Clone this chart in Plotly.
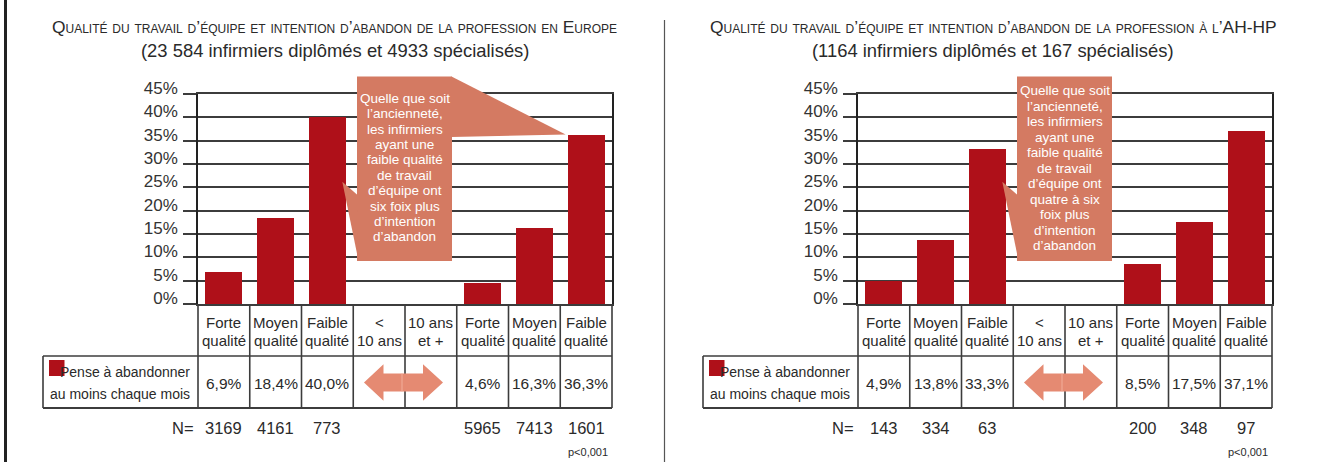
import plotly.graph_objects as go

# ---------------- data ----------------
header_line1 = ["Forte", "Moyen", "Faible", "<", "10 ans", "Forte", "Moyen", "Faible"]
header_line2 = ["qualité", "qualité", "qualité", "10 ans", "et +", "qualité", "qualité", "qualité"]
europe_pct = [6.9, 18.4, 40.0, None, None, 4.6, 16.3, 36.3]
aphp_pct = [4.9, 13.8, 33.3, None, None, 8.5, 17.5, 37.1]
europe_n = [3169, 4161, 773, None, None, 5965, 7413, 1601]
aphp_n = [143, 334, 63, None, None, 200, 348, 97]
y_ticks = [0, 5, 10, 15, 20, 25, 30, 35, 40, 45]

title_left = "Qualité du travail d’équipe et intention d’abandon de la profession en Europe"
title_right = "Qualité du travail d’équipe et intention d’abandon de la profession à l’AH-HP"
subtitle_left = "(23 584 infirmiers diplômés et 4933 spécialisés)"
subtitle_right = "(1164 infirmiers diplômés et 167 spécialisés)"
row_label = ["Pense à abandonner", "au moins chaque mois"]
callout_left = ["Quelle que soit", "l’ancienneté,", "les infirmiers", "ayant une", "faible qualité",
                "de travail", "d’équipe ont", "six foix plus", "d’intention", "d’abandon"]
callout_right = ["Quelle que soit", "l’ancienneté,", "les infirmiers", "ayant une", "faible qualité",
                 "de travail", "d’équipe ont", "quatre à six", "foix plus", "d’intention", "d’abandon"]

# ---------------- styling / geometry ----------------
W, H = 1322, 462
FONT = "Liberation Sans, Arial, sans-serif"
BAR = "#AF1019"
CALLOUT = "#D47A62"
ARROW = "#E58A72"
GRID = "#3c3c3c"
TXT = "#2a2a2a"
PLOT_TOP, PLOT_BOTTOM = 94, 304
PANEL_X0 = [198, 858]
PANEL_W = 414
NCOL = 8
COLW = PANEL_W / NCOL
HEADER_BOTTOM, ROW_BOTTOM = 356, 408
TABLE_LEFT = 155
YMAX = 45
BARW = 0.715


def fx(p):
    return p / W


def fy(p):
    return 1 - p / H


def col_px(x0, i):
    return x0 + (i + 0.5) * COLW


def val_px(v):
    return PLOT_BOTTOM - v / YMAX * (PLOT_BOTTOM - PLOT_TOP)


shapes = []
annotations = []


def line(x0, y0, x1, y1, color=GRID, width=1.6):
    shapes.append(dict(type="line", xref="paper", yref="paper", x0=fx(x0), y0=fy(y0),
                       x1=fx(x1), y1=fy(y1), line=dict(color=color, width=width), layer="above"))


def poly(pts, color):
    d = "M " + " L ".join(f"{fx(a):.5f},{fy(b):.5f}" for a, b in pts) + " Z"
    shapes.append(dict(type="path", xref="paper", yref="paper", path=d, fillcolor=color,
                       line=dict(width=0), layer="above"))


def text(px_, py_, s, size, color=TXT, xanchor="center", variant=None, xref="paper", xval=None):
    font = dict(family=FONT, size=size, color=color)
    if variant:
        font["variant"] = variant
    annotations.append(dict(text=s, xref=xref, yref="paper",
                            x=(xval if xval is not None else fx(px_)), y=fy(py_),
                            xanchor=xanchor, yanchor="middle", showarrow=False, font=font))


fig = go.Figure()

panels = [
    dict(vals=europe_pct, ns=europe_n, title=title_left, sub=subtitle_left, callout=callout_left,
         xa="x", ya="y", xname="xaxis", yname="yaxis", first_line=98.3, step=15.4, big_pointer=True,
         tcx=335),
    dict(vals=aphp_pct, ns=aphp_n, title=title_right, sub=subtitle_right, callout=callout_right,
         xa="x2", ya="y2", xname="xaxis2", yname="yaxis2", first_line=90.5, step=15.5, big_pointer=False,
         tcx=993),
]

for p, x0 in zip(panels, PANEL_X0):
    xs = list(range(NCOL))
    fig.add_trace(go.Bar(x=xs, y=p["vals"], width=BARW, marker=dict(color=BAR, line=dict(width=0)),
                         xaxis=p["xa"], yaxis=p["ya"], hoverinfo="skip", showlegend=False))
    dom_x = [fx(x0), fx(x0 + PANEL_W)]
    fig.update_layout(**{
        p["xname"]: dict(domain=dom_x, range=[-0.5, NCOL - 0.5], showticklabels=False, showgrid=False,
                         zeroline=False, showline=True, linecolor=GRID, linewidth=2, mirror=True,
                         anchor=p["ya"], fixedrange=True, automargin=False),
        p["yname"]: dict(domain=[fy(PLOT_BOTTOM), fy(PLOT_TOP)], range=[0, YMAX], tickvals=y_ticks,
                         ticktext=[f"{t}%" for t in y_ticks], showgrid=True, gridcolor=GRID, gridwidth=1.8,
                         zeroline=False, showline=True, linecolor="#222", linewidth=1.6, mirror=True,
                         ticks="outside", ticklen=13, tickwidth=1.8, tickcolor=GRID,
                         tickfont=dict(family=FONT, size=17, color="#333"), ticklabelshift=-6,
                         ticklabelstandoff=2, anchor=p["xa"], fixedrange=True, automargin=False),
    })

    cx = p["tcx"]
    # titles
    text(cx, 27, p["title"], 17.4, variant="small-caps")
    text(cx, 50, p["sub"], 18.4)

    # table lines
    for k in range(NCOL + 1):
        line(x0 + k * COLW, PLOT_BOTTOM, x0 + k * COLW, ROW_BOTTOM)
    line(x0 - TABLE_LEFT, HEADER_BOTTOM, x0 + PANEL_W, HEADER_BOTTOM)
    line(x0 - TABLE_LEFT, ROW_BOTTOM, x0 + PANEL_W, ROW_BOTTOM, width=2)
    line(x0 - TABLE_LEFT, HEADER_BOTTOM, x0 - TABLE_LEFT, ROW_BOTTOM)

    # header text, values, N
    for i in range(NCOL):
        text(0, 322, header_line1[i], 15, xref=p["xa"], xval=i)
        text(0, 340, header_line2[i], 15, xref=p["xa"], xval=i)
        v = p["vals"][i]
        if v is not None:
            text(0, 383, f"{v:.1f}".replace(".", ",") + "%", 15.5, xref=p["xa"], xval=i)
        n = p["ns"][i]
        if n is not None:
            text(0, 428, str(n), 16.5, xref=p["xa"], xval=i)
    text(x0 - 2, 428, "N=", 16.5, xanchor="right")
    text(x0 + PANEL_W - 2, 452, "p<0,001", 11, xanchor="right")

    # row label with legend square
    shapes.append(dict(type="rect", xref="paper", yref="paper", x0=fx(x0 - 149), x1=fx(x0 - 133.5),
                       y0=fy(376), y1=fy(360), fillcolor=BAR, line=dict(width=0), layer="above"))
    text(x0 - 6, 372, row_label[0], 14, xanchor="right")
    text(x0 - 6, 394, row_label[1], 14, xanchor="right")

    # double arrow between "< 10 ans" and "10 ans et +"
    ax = x0 + 4 * COLW - 1.5
    ay = 382.5
    poly([(ax - 39.5, ay), (ax - 20, ay - 18.2), (ax - 20, ay - 9), (ax + 19.5, ay - 9),
          (ax + 19.5, ay - 18.2), (ax + 39.5, ay), (ax + 19.5, ay + 18.2), (ax + 19.5, ay + 9),
          (ax - 20, ay + 9), (ax - 20, ay + 18.2)], ARROW)
    line(ax - 1.5, ay - 9, ax - 1.5, ay + 9, color="#F2AE9A", width=1)

    # callout
    rx0, rx1 = x0 + 159, x0 + 254
    poly([(rx0, 76.5), (rx1, 76.5), (rx1, 261), (rx0, 261)], CALLOUT)
    poly([(x0 + 144.3, 181.7), (rx0 + 0.5, 195), (rx0 + 0.5, 256)], CALLOUT)
    if p["big_pointer"]:
        tip_x = col_px(x0, 7) - BARW * COLW / 2
        tip_y = val_px(p["vals"][7])
        poly([(rx1 - 0.5, 76.5), (tip_x - 2, tip_y), (rx1 - 0.5, 137)], CALLOUT)
    ccx = (rx0 + rx1) / 2
    for j, s in enumerate(p["callout"]):
        text(ccx, p["first_line"] + j * p["step"], s, 13.5, color="white")

# frame decorations
line(5.5, 0, 5.5, H, color="#222", width=3)
line(664.5, 20, 664.5, H, color="#555", width=1.2)

fig.update_layout(width=W, height=H, margin=dict(l=0, r=0, t=0, b=0, pad=0, autoexpand=False),
                  paper_bgcolor="white", plot_bgcolor="white", showlegend=False, bargap=0,
                  shapes=shapes, annotations=annotations, font=dict(family=FONT, color=TXT))

fig.write_html("out.html", config=dict(displayModeBar=False, responsive=False),
               post_script="document.body.style.margin='0px';document.body.style.padding='0px';"
                           "document.body.style.overflow='hidden';")
